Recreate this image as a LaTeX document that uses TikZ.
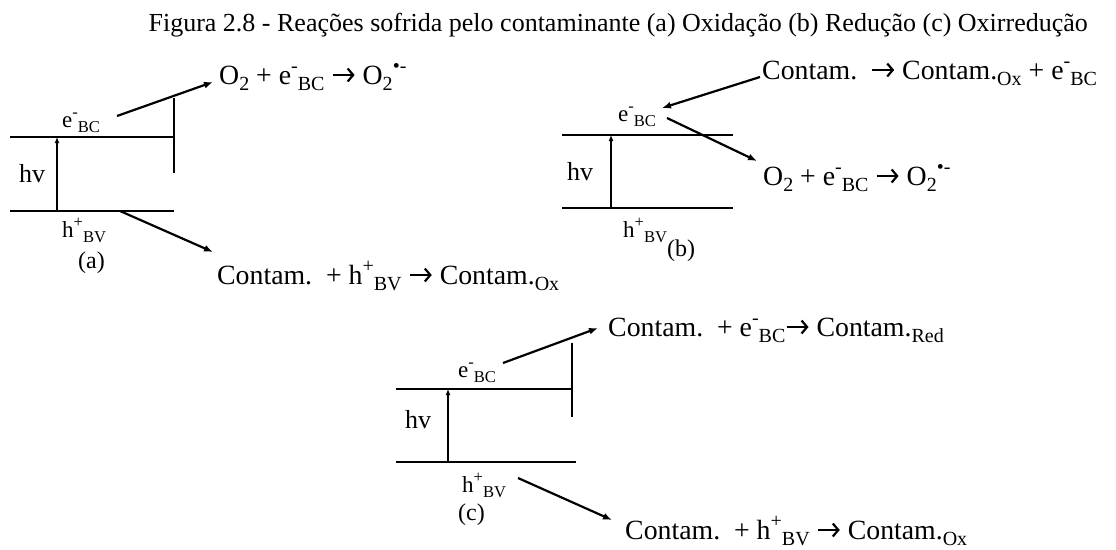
\documentclass[tikz,border=0pt]{standalone}
\usepackage{fontspec}
\usepackage{graphicx}
\setmainfont{Liberation Serif}
\usetikzlibrary{arrows.meta}
\newcommand\lsub[1]{\raisebox{-0.25em}{\scalebox{0.72}{#1}}}
\newcommand\lsup[1]{\raisebox{0.42em}{\scalebox{0.72}{#1}}}
\newcommand\eBC{e\lsup{-}\lsub{BC}}
\newcommand\hBV{h\lsup{+}\lsub{BV}}
\newsavebox\arrbox
\newcommand\rarr{\usebox\arrbox}
\begin{document}
\sbox\arrbox{\pgfpicture
  \pgfsetbaseline{0pt}%
  \pgfsetlinewidth{2.2pt}%
  \pgfsetarrowsend{Straight Barb[length=5.5pt,width=13pt,line width=2.2pt]}%
  \pgfpathmoveto{\pgfpoint{0pt}{9pt}}%
  \pgfpathlineto{\pgfpoint{22pt}{9pt}}%
  \pgfusepath{stroke}%
\endpgfpicture}%
\begin{tikzpicture}[x=1pt,y=-1pt,
  band/.style={line width=2.4pt},
  conn/.style={line width=2.2pt,-{Latex[length=9pt,width=7pt]}},
  exc/.style={line width=2pt,-{Latex[length=6pt,width=5pt]}},
  rxn/.style={font=\fontsize{27.8}{30}\selectfont, inner sep=0pt, anchor=base west},
  lbl/.style={font=\fontsize{23}{25}\selectfont, inner sep=0pt, anchor=base west},
  hvl/.style={font=\fontsize{26}{28}\selectfont, inner sep=0pt, anchor=base west},
  pan/.style={font=\fontsize{24}{26}\selectfont, inner sep=0pt, anchor=base west},
  ttl/.style={font=\fontsize{26}{28}\selectfont, inner sep=0pt, anchor=base east}]
\useasboundingbox (0,0) rectangle (1116,549);

\node[ttl] (title) at (1088,31) {Figura 2.8 - Reações sofrida pelo contaminante (a) Oxidação (b) Redução (c) Oxirredução};

% ---------- panel (a)
\coordinate (a-tl) at (10,137); \coordinate (a-tr) at (174,137);
\coordinate (a-bl) at (10,211); \coordinate (a-br) at (174,211);
\coordinate (a-vt) at (174,98); \coordinate (a-vb) at (174,173);
\coordinate (a-h0) at (57,211); \coordinate (a-h1) at (57,137);
\coordinate (a-e0) at (117,116); \coordinate (a-e1) at (213,82);
\coordinate (a-p0) at (120,211); \coordinate (a-p1) at (213,252);
\draw[band] (a-tl) -- (a-tr);
\draw[band] (a-bl) -- (a-br);
\draw[band] (a-vt) -- (a-vb);
\draw[exc] (a-h0) -- (a-h1);
\node[lbl] (a-e) at (62,127) {\eBC};
\node[hvl] (a-hv) at (19,182) {hv};
\node[lbl] (a-h) at (62,237) {\hBV};
\node[pan] (a-lab) at (78,268) {(a)};
\node[rxn] (a-o2) at (219,84) {O\lsub{2} + \eBC\ \rarr\ O\lsub{2}\lsup{•-}};
\node[rxn] (a-ct) at (217,284) {Contam.\ \ + \hBV\ \rarr\ Contam.\lsub{Ox}};
\draw[conn] (a-e0) -- (a-e1);
\draw[conn] (a-p0) -- (a-p1);

% ---------- panel (b)
\coordinate (b-tl) at (562,135); \coordinate (b-tr) at (733,135);
\coordinate (b-bl) at (562,208); \coordinate (b-br) at (733,208);
\coordinate (b-h0) at (611,208); \coordinate (b-h1) at (611,135);
\coordinate (b-c0) at (760,77); \coordinate (b-c1) at (662,108);
\coordinate (b-e0) at (667,118); \coordinate (b-e1) at (757,161);
\draw[band] (b-tl) -- (b-tr);
\draw[band] (b-bl) -- (b-br);
\draw[exc] (b-h0) -- (b-h1);
\node[lbl] (b-e) at (618,121) {\eBC};
\node[hvl] (b-hv) at (567,180) {hv};
\node[lbl] (b-h) at (623,237) {\hBV};
\node[pan] (b-lab) at (667,256) {(b)};
\node[rxn] (b-ct) at (762,79) {Contam.\ \ \rarr\ Contam.\lsub{Ox} + \eBC};
\node[rxn] (b-o2) at (763,185) {O\lsub{2} + \eBC\ \rarr\ O\lsub{2}\lsup{•-}};
\draw[conn] (b-c0) -- (b-c1);
\draw[conn] (b-e0) -- (b-e1);

% ---------- panel (c)
\coordinate (c-tl) at (396,389); \coordinate (c-tr) at (572,389);
\coordinate (c-bl) at (396,462); \coordinate (c-br) at (576,462);
\coordinate (c-vt) at (572,343); \coordinate (c-vb) at (572,417);
\coordinate (c-h0) at (448,462); \coordinate (c-h1) at (448,389);
\coordinate (c-e0) at (503,363); \coordinate (c-e1) at (598,328);
\coordinate (c-p0) at (518,478); \coordinate (c-p1) at (612,520);
\draw[band] (c-tl) -- (c-tr);
\draw[band] (c-bl) -- (c-br);
\draw[band] (c-vt) -- (c-vb);
\draw[exc] (c-h0) -- (c-h1);
\node[lbl] (c-e) at (458,377) {\eBC};
\node[hvl] (c-hv) at (405,428) {hv};
\node[lbl] (c-h) at (462,492) {\hBV};
\node[pan] (c-lab) at (458,520) {(c)};
\node[rxn] (c-ct1) at (608,336) {Contam.\ \ + \eBC\rarr\ Contam.\lsub{Red}};
\node[rxn] (c-ct2) at (625,539) {Contam.\ \ + \hBV\ \rarr\ Contam.\lsub{Ox}};
\draw[conn] (c-e0) -- (c-e1);
\draw[conn] (c-p0) -- (c-p1);
\end{tikzpicture}
\end{document}
